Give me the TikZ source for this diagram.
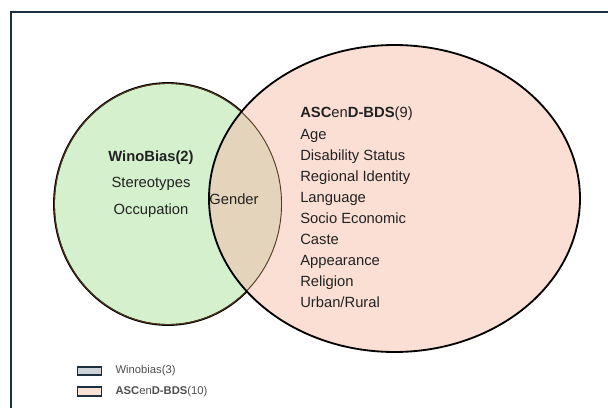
\documentclass[tikz,border=0pt]{standalone}
\usepackage{fontspec}
\setmainfont{Liberation Sans}
\usepackage{xcolor}
\usetikzlibrary{positioning,calc}

\definecolor{wbgreen}{HTML}{D5F0CD}
\definecolor{ascpink}{HTML}{FBDFD4}
\definecolor{both}{HTML}{E4D4BB}
\definecolor{frame}{HTML}{1B2F3E}
\definecolor{keygray}{HTML}{CDD3D6}
\definecolor{keypink}{HTML}{F8E2D6}
\definecolor{txt}{HTML}{222222}

\begin{document}
\begin{tikzpicture}[x=0.025cm, y=-0.025cm,
    label/.style={text=txt, inner sep=0pt},
    key/.style={draw=frame, line width=1.3pt, minimum width=0.6cm, minimum height=0.22cm, inner sep=0pt}]
    \useasboundingbox (0,0) rectangle (608,408);
    \draw[frame, line width=1.7pt] (11,12) rectangle (640,440); % outer frame

    % Venn sets
    \fill[wbgreen] (168,204) ellipse [x radius=114, y radius=121];
    \draw[line width=1.3pt] (168,204) ellipse [x radius=114, y radius=121];
    \fill[ascpink] (394.5,198.5) ellipse [x radius=185.5, y radius=153.5];
    \begin{scope}
        \clip (168,204) ellipse [x radius=114, y radius=121];
        \fill[both] (394.5,198.5) ellipse [x radius=185.5, y radius=153.5];
        \draw[line width=1.3pt, black!55!brown] (168,204) ellipse [x radius=114, y radius=121];
    \end{scope}
    \draw[line width=1.3pt] (394.5,198.5) ellipse [x radius=185.5, y radius=153.5];

    % set contents
    \node[label, align=center, font=\fontsize{10.5}{18.8}\selectfont] (wino) at (151,184)
        {\textbf{WinoBias(2)}\\Stereotypes\\Occupation};
    \node[label, font=\fontsize{10.5}{12}\selectfont] (gender) at (234,199) {Gender};
    \node[label, align=left, anchor=north west, font=\fontsize{10.5}{15}\selectfont] (ascend) at (300,107)
        {\textbf{ASC}en\textbf{D-BDS}(9)\\Age\\Disability Status\\Regional Identity\\Language\\Socio Economic\\Caste\\Appearance\\Religion\\Urban/Rural};

    % legend
    \node[key, fill=keygray] (k1) at (89.5,371) {};
    \node[key, fill=keypink, below=0.25cm of k1] (k2) {};
    \node[label, right=0.32cm of k1, font=\fontsize{8}{9}\selectfont, text=txt!80] (t1) {Winobias(3)};
    \node[label, right=0.32cm of k2, font=\fontsize{8}{9}\selectfont, text=txt!80] (t2) {\textbf{ASC}en\textbf{D-BDS}(10)};
\end{tikzpicture}
\end{document}
